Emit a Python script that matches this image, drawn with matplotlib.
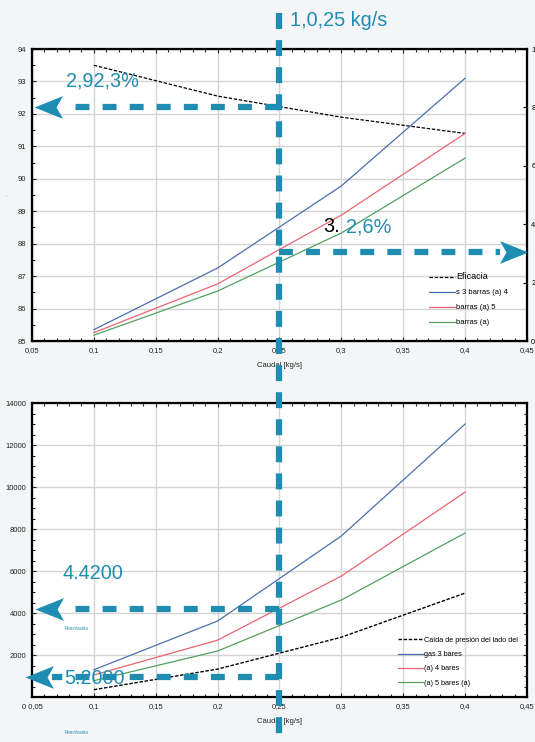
import numpy as np
import matplotlib
matplotlib.use('Agg')
import matplotlib.pyplot as plt
import matplotlib.transforms as mtransforms
from matplotlib.path import Path
from matplotlib.lines import Line2D
from matplotlib.ticker import FixedLocator, MultipleLocator

plt.rcParams['font.family'] = ['Liberation Sans', 'DejaVu Sans']
plt.rcParams['lines.scale_dashes'] = False

# datos
caudal = [0.1, 0.2, 0.3, 0.4]
eficacia = [93.5, 92.55, 91.9, 91.4]
ef_3b = [85.35, 87.25, 89.78, 93.1]
ef_4b = [85.26, 86.76, 88.88, 91.4]
ef_5b = [85.18, 86.54, 88.33, 90.64]

dp_gas = [350, 1330, 2850, 4950]
dp_3b = [1300, 3620, 7670, 13000]
dp_4b = [1050, 2710, 5760, 9760]
dp_5b = [780, 2190, 4620, 7810]

xticks = [0.05, 0.1, 0.15, 0.2, 0.25, 0.3, 0.35, 0.4, 0.45]
xlab_top = ['0,05', '0,1', '0,15', '0,2', '0,25', '0,3', '0,35', '0,4', '0,45']
xlab_bot = ['0 0,05', '0,1', '0,15', '0,2', '0,25', '0,3', '0,35', '0,4', '0,45']
yticks_top = [85, 86, 87, 88, 89, 90, 91, 92, 93, 94]
yticks_der = [0, 20, 40, 60, 80, 100]
ylab_der = ['0', '2', '4', '6', '8', '1']  # tal como se ven, cortados en el borde
yticks_bot = [2000, 4000, 6000, 8000, 10000, 12000, 14000]

leg_top = ['Eficacia', 's 3 barras (a) 4', 'barras (a) 5', 'barras (a)']
leg_bot = ['Caída de presión del lado del', 'gas 3 bares', '(a) 4 bares', '(a) 5 bares (a)']

# valores marcados con flechas
x_sel = 0.25
y_ef_sel = 92.21
y_ef_der = 87.74
y_dp_sel = 4200
y_dp_low = 950

teal = '#1f8db2'
c_blue = '#4b6fae'
c_red = '#ec6470'
c_green = '#52a062'

fig = plt.figure(figsize=(5.35, 7.42), dpi=100, facecolor='#f3f5f6')
ax1 = fig.add_axes([0.0598, 0.5404, 0.9252, 0.3935])
ax2 = fig.add_axes([0.0598, 0.0606, 0.9252, 0.3962])


def style(ax, labels):
    ax.set_facecolor('white')
    ax.set_xlim(0.05, 0.45)
    ax.xaxis.set_major_locator(FixedLocator(xticks))
    ax.set_xticklabels(labels)
    ax.xaxis.set_minor_locator(MultipleLocator(0.01))
    ax.tick_params(which='both', direction='in', top=True, labelsize=5.5,
                   width=0.8, pad=4, colors='#222222')
    ax.tick_params(which='major', length=3)
    ax.tick_params(which='minor', length=2)
    ax.grid(True, which='major', color='#d4d4d4', lw=1.0)
    ax.set_axisbelow(True)
    for s in ax.spines.values():
        s.set_linewidth(1.6)
    ax.set_xlabel('Caudal [kg/s]', fontsize=5.5, labelpad=6, color='#222222')


# grafico de eficacia
style(ax1, xlab_top)
ax1.set_ylim(85, 94)
ax1.set_yticks(yticks_top)
ax1.yaxis.set_minor_locator(MultipleLocator(0.5))
ax1.plot(caudal, eficacia, color='black', lw=0.9, ls=(0, (2.5, 1.2)), label=leg_top[0])
ax1.plot(caudal, ef_3b, color=c_blue, lw=0.9, label=leg_top[1])
ax1.plot(caudal, ef_4b, color=c_red, lw=0.9, label=leg_top[2])
ax1.plot(caudal, ef_5b, color=c_green, lw=0.9, label=leg_top[3])
ax1.set_ylabel('-', fontsize=4, color='#888888', labelpad=6)
leg = ax1.legend(loc='upper left', bbox_to_anchor=(0.803, 0.235), frameon=False,
                 fontsize=5.5, handlelength=3.4, handletextpad=0.1,
                 labelspacing=1.0, borderpad=0, borderaxespad=0)
leg.get_texts()[0].set_fontsize(6.5)

ax1r = ax1.twinx()
ax1r.set_ylim(0, 100)
ax1r.set_yticks(yticks_der)
ax1r.set_yticklabels(ylab_der)
ax1r.tick_params(direction='in', labelsize=5.5, length=3, width=0.8, pad=3)

# grafico de caida de presion
style(ax2, xlab_bot)
ax2.set_ylim(0, 14000)
ax2.set_yticks(yticks_bot)
ax2.yaxis.set_minor_locator(MultipleLocator(500))
ax2.tick_params(which='both', right=True)
ax2.plot(caudal, dp_gas, color='black', lw=1.0, ls=(0, (2.5, 1.2)), label=leg_bot[0])
ax2.plot(caudal, dp_3b, color=c_blue, lw=0.9, label=leg_bot[1])
ax2.plot(caudal, dp_4b, color=c_red, lw=0.9, label=leg_bot[2])
ax2.plot(caudal, dp_5b, color=c_green, lw=0.9, label=leg_bot[3])
ax2.legend(loc='upper left', bbox_to_anchor=(0.74, 0.205), frameon=False,
           fontsize=5.2, handlelength=3.4, handletextpad=0.1,
           labelspacing=1.0, borderpad=0, borderaxespad=0)

# flechas y anotaciones
head_l = Path([(0, 0), (2, 0.8), (1.55, 0), (2, -0.8), (0, 0)])
head_r = Path([(0, 0), (-2, 0.8), (-1.55, 0), (-2, -0.8), (0, 0)])
dash_h = (0, (10, 9.5))


def arrow(ax, x0, x1, y, head):
    ax.plot([x_sel, x1], [y, y], color=teal, lw=4.5, ls=dash_h,
            solid_capstyle='butt', clip_on=False, zorder=5)
    ax.plot([x0], [y], marker=head, ms=41, color=teal, mec='none',
            clip_on=False, zorder=6)


arrow(ax1, 0.052, 0.075, y_ef_sel, head_l)
arrow(ax1, 0.4505, 0.428, y_ef_der, head_r)
arrow(ax2, 0.0524, 0.075, y_dp_sel, head_l)
arrow(ax2, 0.0443, 0.066, y_dp_low, head_l)

tr = mtransforms.blended_transform_factory(ax1.transData, fig.transFigure)
fig.add_artist(Line2D([x_sel, x_sel], [1 - 13 / 742, 0], transform=tr,
                      color=teal, lw=4.5, ls=(0, (11.5, 8)), zorder=10))

fig.text(290 / 535, 1 - 26 / 742, '1,0,25 kg/s', color=teal, fontsize=14.3,
         va='baseline')
ax1.text(0.0775, 92.86, '2,92,3%', color=teal, fontsize=14.3, va='baseline', zorder=7)
ax1.text(0.2852, 88.36, '3.', color='black', fontsize=14.3, va='baseline', zorder=7)
ax1.text(0.3038, 88.36, '2,6%', color=teal, fontsize=14.3, va='baseline', zorder=7)
ax2.text(0.075, 5600, '4.4200', color=teal, fontsize=14.3, va='baseline', zorder=7)
ax2.text(0.0759, 620, '5.2000', color=teal, fontsize=14.3, va='baseline', zorder=7)
fig.text(65 / 535, 1 - 629 / 742, 'Pensilvania', color=teal, fontsize=3.3, va='center')
fig.text(65 / 535, 1 - 733 / 742, 'Pensilvania', color=teal, fontsize=3.3, va='center')

plt.savefig('out.png', dpi=100, facecolor=fig.get_facecolor())
